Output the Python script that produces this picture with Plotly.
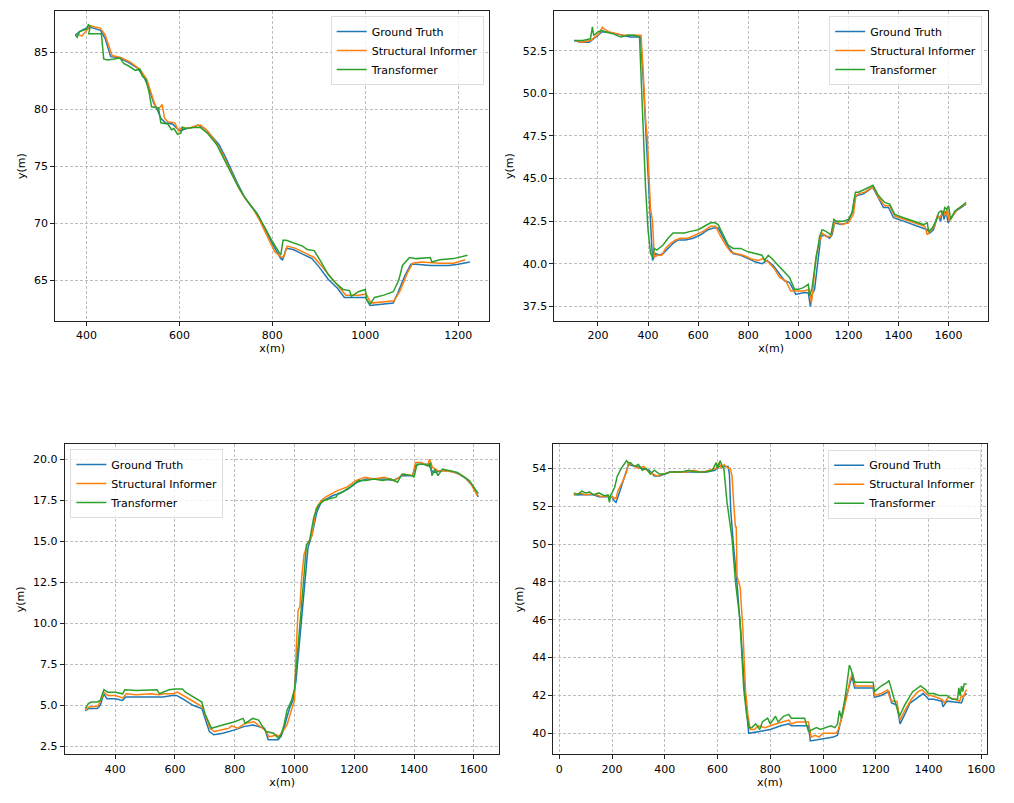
import plotly.graph_objects as go

# ---------------- Chart 1 (top-left) ----------------
gt_x1 = [376, 385, 395, 405, 415, 430, 440, 447, 452, 470, 490, 510, 525, 537, 545, 552, 560, 570, 585, 595, 602, 615, 630, 640, 655, 670, 685, 700, 712, 726, 740, 755, 768, 783, 800, 818, 822, 830, 845, 865, 885, 900, 920, 940, 955, 980, 1000, 1010, 1030, 1060, 1070, 1085, 1098, 1110, 1140, 1180, 1200, 1225]
gt_y1 = [86.5, 86.8, 87.0, 87.2, 87.1, 86.9, 86.2, 85.2, 84.6, 84.5, 84.1, 83.6, 82.7, 81.5, 80.5, 80.0, 79.2, 78.8, 78.7, 78.3, 78.1, 78.3, 78.4, 78.6, 78.3, 77.6, 76.9, 75.7, 74.6, 73.4, 72.3, 71.5, 70.8, 69.6, 68.2, 66.9, 66.8, 67.8, 67.7, 67.3, 66.9, 66.2, 65.1, 64.3, 63.5, 63.5, 63.5, 62.8, 62.9, 63.0, 63.9, 65.4, 66.4, 66.4, 66.3, 66.3, 66.4, 66.6]
si_x1 = [380, 390, 400, 410, 418, 430, 440, 448, 455, 475, 495, 515, 530, 540, 548, 555, 563, 568, 575, 590, 598, 605, 618, 632, 645, 660, 675, 690, 703, 716, 730, 745, 758, 772, 788, 805, 820, 825, 832, 850, 870, 890, 905, 925, 945, 958, 985, 1002, 1012, 1035, 1062, 1075, 1090, 1102, 1120, 1160, 1190, 1215]
si_y1 = [86.6, 86.4, 86.9, 87.3, 87.2, 87.1, 86.5, 85.5, 84.7, 84.5, 84.1, 83.5, 82.6, 81.3, 80.3, 80.0, 80.4, 79.2, 78.9, 78.8, 78.1, 78.4, 78.3, 78.5, 78.6, 78.1, 77.3, 76.3, 75.2, 74.1, 72.9, 72.0, 71.3, 70.3, 68.9, 67.5, 67.0, 67.1, 68.0, 67.8, 67.4, 67.0, 66.3, 65.3, 64.4, 63.7, 63.7, 63.8, 63.0, 63.1, 63.2, 64.1, 65.6, 66.5, 66.6, 66.5, 66.5, 66.8]
tf_x1 = [376, 380, 385, 392, 400, 404, 408, 405, 420, 432, 437, 445, 460, 472, 480, 490, 505, 515, 520, 528, 535, 540, 555, 560, 575, 583, 588, 596, 603, 607, 612, 630, 645, 660, 680, 698, 710, 724, 738, 752, 766, 780, 800, 818, 823, 830, 850, 865, 875, 890, 905, 920, 935, 952, 966, 970, 985, 1000, 1003, 1010, 1020, 1040, 1060, 1072, 1080, 1095, 1110, 1140, 1143, 1160, 1190, 1220]
tf_y1 = [86.5, 86.3, 86.8, 86.9, 87.0, 87.4, 87.3, 86.6, 86.6, 86.6, 84.4, 84.3, 84.4, 84.5, 84.0, 83.8, 83.4, 83.5, 82.9, 82.6, 81.4, 80.2, 80.1, 78.8, 78.7, 78.2, 78.3, 77.8, 77.9, 78.4, 78.3, 78.4, 78.4, 77.9, 76.9, 75.4, 74.5, 73.4, 72.4, 71.6, 70.9, 69.9, 68.4, 67.2, 68.5, 68.5, 68.2, 68.0, 67.7, 67.6, 66.6, 65.5, 64.8, 64.2, 64.1, 63.6, 64.0, 64.2, 63.3, 62.9, 63.5, 63.7, 64.0, 65.0, 66.3, 67.0, 66.9, 67.0, 66.6, 66.8, 66.9, 67.2]

# ---------------- Chart 2 (top-right) ----------------
gt_x2 = [105, 130, 165, 185, 200, 215, 240, 270, 300, 330, 355, 370, 380, 390, 400, 410, 418, 430, 445, 460, 480, 500, 520, 550, 580, 610, 640, 660, 680, 700, 720, 740, 770, 800, 830, 855, 875, 900, 920, 945, 965, 990, 1020, 1040, 1048, 1055, 1065, 1080, 1090, 1105, 1125, 1135, 1145, 1170, 1195, 1215, 1225, 1235, 1260, 1280, 1297, 1315, 1340, 1360, 1380, 1420, 1460, 1500, 1515, 1525, 1540, 1550, 1560, 1568, 1575, 1582, 1590, 1598, 1610, 1630, 1650, 1670]
gt_y2 = [53.1, 53.0, 53.0, 53.2, 53.4, 53.6, 53.6, 53.5, 53.4, 53.3, 53.3, 53.3, 51.0, 48.0, 45.0, 42.0, 40.2, 40.6, 40.5, 40.6, 40.9, 41.2, 41.4, 41.4, 41.5, 41.7, 42.0, 42.1, 42.1, 41.5, 41.0, 40.6, 40.5, 40.3, 40.1, 40.0, 40.2, 39.9, 39.5, 39.0, 38.9, 38.2, 38.3, 38.3, 37.5, 38.2, 38.5, 40.3, 41.6, 41.7, 41.5, 41.7, 42.4, 42.3, 42.4, 43.0, 43.9, 44.0, 44.1, 44.3, 44.5, 44.0, 43.3, 43.3, 42.7, 42.5, 42.3, 42.1, 42.0, 41.8, 42.0, 42.6, 42.8, 42.5, 43.1, 42.6, 43.1, 42.4, 42.7, 43.1, 43.3, 43.5]
si_x2 = [110, 135, 170, 190, 205, 218, 222, 245, 275, 305, 335, 360, 372, 380, 390, 397, 403, 410, 418, 425, 440, 455, 470, 490, 510, 530, 560, 590, 620, 650, 670, 690, 710, 730, 750, 780, 810, 840, 860, 880, 905, 925, 950, 970, 995, 1025, 1042, 1052, 1058, 1070, 1085, 1095, 1110, 1130, 1140, 1150, 1175, 1200, 1220, 1230, 1240, 1265, 1285, 1300, 1320, 1345, 1365, 1385, 1425, 1465, 1505, 1515, 1525, 1545, 1555, 1565, 1572, 1580, 1588, 1595, 1602, 1615, 1635, 1655, 1670]
si_y2 = [53.1, 53.0, 53.1, 53.3, 53.5, 53.9, 53.8, 53.6, 53.5, 53.4, 53.4, 53.4, 53.4, 51.5, 48.5, 47.4, 45.0, 43.2, 42.5, 40.4, 40.5, 40.5, 40.9, 41.2, 41.4, 41.5, 41.5, 41.7, 41.9, 42.2, 42.2, 41.6, 41.1, 40.7, 40.6, 40.5, 40.3, 40.2, 40.3, 40.1, 39.7, 39.2, 39.0, 38.4, 38.4, 38.4, 38.5, 37.7, 38.4, 40.4, 41.3, 41.8, 41.6, 41.6, 42.2, 42.5, 42.3, 42.4, 42.9, 44.0, 44.1, 44.2, 44.4, 44.5, 43.9, 43.4, 43.4, 42.8, 42.6, 42.4, 42.2, 41.7, 41.9, 42.2, 42.8, 42.7, 42.9, 43.1, 42.8, 43.2, 42.5, 42.8, 43.2, 43.4, 43.5]
tf_x2 = [105, 140, 170, 178, 183, 190, 200, 215, 230, 260, 290, 320, 345, 366, 372, 380, 390, 400, 410, 418, 425, 435, 445, 460, 480, 500, 520, 545, 570, 600, 625, 650, 668, 680, 700, 720, 740, 770, 800, 830, 855, 865, 880, 895, 920, 945, 965, 985, 1000, 1020, 1040, 1045, 1055, 1070, 1085, 1095, 1110, 1130, 1142, 1150, 1180, 1200, 1215, 1228, 1240, 1270, 1298, 1320, 1345, 1365, 1385, 1420, 1460, 1500, 1515, 1520, 1535, 1550, 1560, 1570, 1578, 1585, 1592, 1600, 1608, 1625, 1645, 1670]
tf_y2 = [53.1, 53.1, 53.2, 53.9, 53.4, 53.5, 53.6, 53.7, 53.6, 53.5, 53.3, 53.4, 53.4, 53.3, 51.0, 47.5, 44.5, 42.0, 40.6, 40.4, 40.9, 40.8, 40.9, 41.1, 41.5, 41.8, 41.8, 41.8, 41.9, 42.0, 42.2, 42.4, 42.4, 42.3, 41.7, 41.1, 40.9, 40.9, 40.7, 40.6, 40.5, 40.2, 40.5, 40.3, 39.9, 39.5, 39.2, 38.5, 38.5, 38.6, 38.8, 38.1, 38.6, 40.2, 41.6, 42.0, 41.9, 41.7, 42.6, 42.5, 42.5, 42.6, 43.0, 44.2, 44.2, 44.4, 44.6, 44.0, 43.6, 43.5, 42.9, 42.7, 42.5, 42.3, 42.4, 41.9, 42.1, 42.5, 43.0, 43.1, 42.9, 43.3, 43.2, 43.4, 42.6, 43.1, 43.3, 43.6]

# ---------------- Chart 3 (bottom-left) ----------------
gt_x3 = [300, 310, 340, 350, 362, 372, 400, 425, 435, 460, 500, 540, 560, 590, 605, 625, 660, 690, 700, 715, 730, 760, 800, 830, 860, 880, 900, 912, 920, 945, 955, 965, 975, 985, 995, 1005, 1015, 1025, 1035, 1045, 1060, 1075, 1090, 1110, 1130, 1150, 1180, 1210, 1240, 1270, 1300, 1330, 1360, 1395, 1405, 1420, 1450, 1458, 1470, 1490, 1520, 1550, 1575, 1595, 1615]
gt_y3 = [4.65, 4.8, 4.8, 5.0, 5.7, 5.4, 5.4, 5.3, 5.5, 5.5, 5.5, 5.5, 5.5, 5.6, 5.6, 5.4, 5.0, 4.8, 4.2, 3.4, 3.2, 3.3, 3.5, 3.7, 3.8, 3.7, 3.6, 2.9, 2.9, 2.9, 3.1, 3.6, 4.3, 4.9, 5.3, 6.5, 8.5, 10.5, 13.0, 14.6, 15.5, 16.8, 17.4, 17.6, 17.8, 17.9, 18.2, 18.6, 18.8, 18.8, 18.8, 18.7, 19.0, 19.0, 19.6, 19.7, 19.7, 19.3, 19.2, 19.3, 19.3, 19.1, 18.8, 18.4, 17.7]
si_x3 = [300, 312, 342, 352, 362, 375, 400, 425, 437, 470, 520, 545, 565, 595, 608, 628, 665, 692, 702, 717, 732, 780, 790, 810, 835, 865, 885, 902, 914, 922, 940, 948, 960, 975, 988, 1000, 1006, 1012, 1018, 1024, 1032, 1045, 1058, 1072, 1090, 1105, 1125, 1145, 1175, 1205, 1235, 1265, 1300, 1335, 1365, 1395, 1405, 1425, 1445, 1452, 1462, 1480, 1500, 1540, 1570, 1590, 1612]
si_y3 = [4.7, 4.9, 4.95, 5.3, 5.8, 5.6, 5.6, 5.45, 5.7, 5.65, 5.7, 5.65, 5.7, 5.7, 5.8, 5.6, 5.2, 4.9, 4.4, 3.6, 3.4, 3.6, 3.75, 3.6, 3.9, 4.0, 3.7, 3.5, 3.1, 3.1, 3.2, 3.1, 3.4, 3.8, 4.6, 5.3, 8.5, 10.8, 11.0, 12.8, 14.2, 14.9, 15.3, 17.0, 17.5, 17.7, 17.9, 18.1, 18.3, 18.7, 18.9, 18.8, 18.9, 18.7, 19.1, 19.0, 19.8, 19.8, 19.6, 20.0, 19.5, 19.3, 19.3, 19.2, 18.9, 18.5, 17.8]
tf_x3 = [300, 310, 320, 340, 350, 362, 375, 400, 425, 432, 470, 520, 540, 548, 580, 600, 625, 635, 690, 700, 722, 760, 800, 828, 835, 860, 880, 900, 905, 930, 935, 945, 955, 965, 975, 990, 1000, 1010, 1020, 1030, 1040, 1050, 1065, 1080, 1100, 1120, 1140, 1145, 1160, 1185, 1215, 1240, 1265, 1295, 1320, 1345, 1360, 1395, 1400, 1410, 1430, 1448, 1455, 1460, 1470, 1480, 1495, 1520, 1545, 1570, 1585, 1615]
tf_y3 = [4.8, 5.1, 5.2, 5.2, 5.3, 5.95, 5.8, 5.8, 5.7, 5.95, 5.9, 5.95, 5.95, 5.7, 5.95, 6.0, 6.0, 5.8, 5.2, 4.5, 3.6, 3.8, 4.0, 4.2, 3.9, 4.2, 4.1, 3.5, 3.4, 3.3, 3.2, 3.0, 3.2, 3.8, 4.7, 5.3, 6.0, 8.0, 10.0, 12.5, 14.8, 15.0, 16.5, 17.2, 17.5, 17.6, 17.7, 17.9, 18.0, 18.3, 18.7, 18.7, 18.8, 18.7, 18.8, 18.6, 19.1, 19.0, 18.9, 19.7, 19.7, 19.6, 19.8, 19.0, 19.4, 19.0, 19.4, 19.3, 19.2, 18.9, 18.7, 17.9]

# ---------------- Chart 4 (bottom-right) ----------------
gt_x4 = [55, 80, 100, 130, 150, 180, 200, 208, 215, 230, 250, 262, 290, 320, 340, 360, 380, 400, 420, 450, 480, 520, 560, 590, 605, 620, 640, 645, 650, 660, 674, 690, 703, 718, 760, 800, 840, 870, 880, 945, 952, 1000, 1040, 1055, 1062, 1070, 1085, 1100, 1110, 1120, 1150, 1190, 1195, 1220, 1250, 1260, 1280, 1292, 1310, 1330, 1360, 1380, 1395, 1400, 1420, 1450, 1455, 1470, 1500, 1515, 1525, 1535, 1545]
gt_y4 = [52.6, 52.6, 52.6, 52.6, 52.5, 52.5, 52.5, 52.3, 52.2, 52.8, 53.7, 54.2, 54.1, 54.0, 53.9, 53.6, 53.6, 53.7, 53.8, 53.8, 53.8, 53.8, 53.8, 53.9, 54.1, 54.1, 54.1, 53.7, 51.8, 50.0, 47.9, 45.0, 42.3, 40.0, 40.1, 40.2, 40.4, 40.5, 40.4, 40.4, 39.6, 39.7, 39.8, 39.9, 40.3, 40.8, 41.8, 42.6, 43.0, 42.4, 42.4, 42.4, 41.9, 42.0, 42.2, 41.6, 41.5, 40.5, 41.0, 41.6, 41.9, 42.1, 41.9, 41.8, 41.8, 41.7, 41.4, 41.7, 41.65, 41.6, 41.6, 42.0, 42.1]
si_x4 = [55, 80, 100, 120, 140, 160, 180, 200, 215, 222, 240, 255, 262, 275, 300, 320, 340, 355, 370, 395, 420, 450, 480, 510, 540, 570, 595, 605, 615, 625, 640, 648, 655, 661, 668, 671, 674, 686, 696, 706, 715, 724, 740, 755, 780, 800, 820, 845, 870, 880, 900, 945, 955, 970, 985, 1000, 1030, 1050, 1058, 1065, 1075, 1090, 1102, 1112, 1122, 1140, 1160, 1190, 1197, 1220, 1245, 1255, 1262, 1280, 1292, 1310, 1335, 1360, 1375, 1400, 1410, 1430, 1452, 1460, 1475, 1500, 1518, 1525, 1532, 1540, 1545]
si_y4 = [52.6, 52.7, 52.6, 52.65, 52.6, 52.5, 52.55, 52.5, 52.4, 52.8, 53.3, 53.8, 54.3, 54.2, 54.0, 54.1, 53.8, 53.7, 53.6, 53.7, 53.8, 53.8, 53.8, 53.9, 53.8, 53.9, 54.0, 54.3, 54.0, 54.2, 54.0, 54.0, 53.6, 52.2, 50.9, 50.9, 48.3, 47.7, 45.5, 42.3, 41.0, 40.2, 40.2, 40.4, 40.3, 40.4, 40.5, 40.6, 40.7, 40.5, 40.6, 40.6, 39.8, 39.9, 39.8, 40.0, 40.0, 40.0, 40.2, 40.5, 41.0, 41.9, 42.8, 43.2, 42.5, 42.5, 42.5, 42.5, 42.0, 42.1, 42.3, 41.8, 41.7, 41.7, 40.7, 41.2, 41.8, 42.2, 42.3, 42.0, 42.0, 41.9, 41.8, 41.6, 41.9, 41.8, 41.7, 42.0, 41.9, 42.2, 42.3]
tf_x4 = [55, 70, 85, 100, 115, 130, 150, 170, 185, 190, 195, 200, 210, 220, 235, 245, 255, 262, 270, 285, 300, 315, 330, 345, 360, 380, 400, 420, 440, 460, 490, 520, 550, 580, 595, 600, 610, 618, 624, 636, 655, 668, 685, 699, 710, 720, 730, 745, 760, 770, 790, 800, 820, 830, 850, 870, 880, 900, 930, 945, 960, 975, 990, 1010, 1030, 1045, 1055, 1062, 1070, 1085, 1100, 1106, 1120, 1150, 1190, 1195, 1220, 1245, 1250, 1270, 1290, 1310, 1340, 1370, 1390, 1400, 1420, 1440, 1450, 1470, 1490, 1510, 1515, 1520, 1525, 1530, 1535, 1545]
tf_y4 = [52.7, 52.6, 52.8, 52.7, 52.75, 52.6, 52.7, 52.55, 52.6, 52.2, 52.6, 52.7, 53.0, 53.6, 54.0, 54.2, 54.4, 54.3, 54.3, 54.1, 54.2, 53.9, 54.0, 53.7, 53.9, 53.7, 53.7, 53.8, 53.8, 53.8, 53.9, 53.8, 53.8, 53.9, 54.3, 54.0, 54.4, 54.1, 54.0, 52.2, 50.3, 48.0, 46.0, 42.4, 41.0, 40.3, 40.3, 40.5, 40.2, 40.6, 40.8, 40.5, 40.9, 40.6, 40.9, 41.0, 40.8, 40.8, 40.8, 40.1, 40.2, 40.3, 40.2, 40.3, 40.4, 40.3, 40.5, 41.2, 40.8, 42.0, 43.6, 43.4, 42.7, 42.7, 42.7, 42.2, 42.5, 42.7, 42.8, 41.8, 40.9, 41.5, 42.2, 42.5, 42.3, 42.1, 42.1, 42.0, 42.0, 42.0, 41.8, 41.8, 42.4, 42.0, 42.5, 42.2, 42.6, 42.6]

series_names = ["Ground Truth", "Structural Informer", "Transformer"]
series_colors = ["#1f77b4", "#ff7f0e", "#2ca02c"]

panels = [
    dict(data=[(gt_x1, gt_y1), (si_x1, si_y1), (tf_x1, tf_y1)],
         xr=[332.6, 1266], yr=[61.43, 88.6], xt=[400, 600, 800, 1000, 1200], yt=[65, 70, 75, 80, 85], yfmt="d",
         xd=[0.0549, 0.4865], yd=[0.6002, 0.9863], leg=dict(x=0.4813, y=0.9800, xanchor="right")),
    dict(data=[(gt_x2, gt_y2), (si_x2, si_y2), (tf_x2, tf_y2)],
         xr=[26, 1757], yr=[36.64, 54.83], xt=[200, 400, 600, 800, 1000, 1200, 1400, 1600],
         yt=[37.5, 40.0, 42.5, 45.0, 47.5, 50.0, 52.5], yfmt=".1f",
         xd=[0.5516, 0.9830], yd=[0.6002, 0.9863], leg=dict(x=0.9773, y=0.9800, xanchor="right")),
    dict(data=[(gt_x3, gt_y3), (si_x3, si_y3), (tf_x3, tf_y3)],
         xr=[231, 1686], yr=[2.01, 20.91], xt=[400, 600, 800, 1000, 1200, 1400, 1600],
         yt=[2.5, 5.0, 7.5, 10.0, 12.5, 15.0, 17.5, 20.0], yfmt=".1f",
         xd=[0.0644, 0.4970], yd=[0.0606, 0.4467], leg=dict(x=0.0700, y=0.4410, xanchor="left")),
    dict(data=[(gt_x4, gt_y4), (si_x4, si_y4), (tf_x4, tf_y4)],
         xr=[-22.6, 1620], yr=[38.89, 55.27], xt=[0, 200, 400, 600, 800, 1000, 1200, 1400, 1600],
         yt=[40, 42, 44, 46, 48, 50, 52, 54], yfmt="d",
         xd=[0.5506, 0.9816], yd=[0.0606, 0.4467], leg=dict(x=0.9763, y=0.4400, xanchor="right")),
]

FONT = "DejaVu Sans"
fig = go.Figure()
layout = dict(
    width=1014, height=803,
    margin=dict(l=0, r=0, t=0, b=0),
    paper_bgcolor="white", plot_bgcolor="white",
    font=dict(family=FONT, size=11, color="#000000"),
)

for i, p in enumerate(panels, start=1):
    sfx = "" if i == 1 else str(i)
    legname = "legend" if i == 1 else f"legend{i}"
    for (xs, ys), name, color in zip(p["data"], series_names, series_colors):
        fig.add_trace(go.Scatter(
            x=xs, y=ys, mode="lines", name=name,
            line=dict(color=color, width=1.5),
            xaxis="x" + sfx, yaxis="y" + sfx, legend=legname,
        ))
    axis_common = dict(
        showline=True, mirror=True, linecolor="#222222", linewidth=1,
        ticks="outside", ticklen=4, tickwidth=1, tickcolor="#222222",
        showgrid=True, gridcolor="#bdbdbd", griddash="3px,2px", gridwidth=0.8,
        zeroline=False, tickfont=dict(family=FONT, size=11, color="#000000"),
        tickmode="array",
    )
    layout["xaxis" + sfx] = dict(
        axis_common, domain=p["xd"], range=p["xr"], tickvals=p["xt"],
        ticktext=[str(v) for v in p["xt"]],
        anchor="y" + sfx,
        title=dict(text="x(m)", font=dict(family=FONT, size=11), standoff=2),
    )
    ytext = [format(v, p["yfmt"]) if p["yfmt"] != "d" else str(int(v)) for v in p["yt"]]
    layout["yaxis" + sfx] = dict(
        axis_common, domain=p["yd"], range=p["yr"], tickvals=p["yt"], ticktext=ytext,
        anchor="x" + sfx,
        title=dict(text="y(m)", font=dict(family=FONT, size=11), standoff=6),
    )
    layout[legname] = dict(
        x=p["leg"]["x"], y=p["leg"]["y"], xanchor=p["leg"]["xanchor"], yanchor="top",
        bgcolor="rgba(255,255,255,0.8)", bordercolor="#dddddd", borderwidth=1,
        font=dict(family=FONT, size=11, color="#000000"),
        tracegroupgap=0,
    )

fig.update_layout(**layout)
fig.write_html("out.html", config={"displayModeBar": False},
               post_script="document.body.style.margin='0';")
